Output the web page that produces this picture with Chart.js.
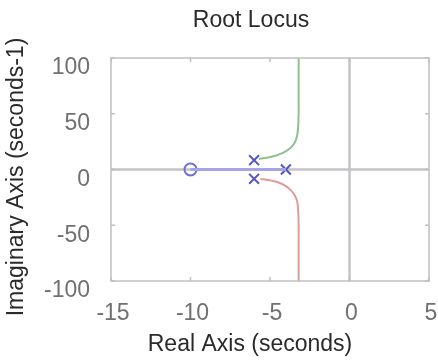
<!DOCTYPE html>
<html>
<head>
<meta charset="utf-8">
<script src="https://cdn.jsdelivr.net/npm/chart.js@4.4.1/dist/chart.umd.min.js"></script>
<style>
  html, body { margin: 0; padding: 0; background: #fff; }
  #wrap { width: 438px; height: 364px; }
</style>
</head>
<body>
<div id="wrap"><canvas id="locus"></canvas></div>
<script>
// Root locus data
const xTicks = [-15, -10, -5, 0, 5];
const yTicks = [-100, -50, 0, 50, 100];

// poles (x marks) and zero (o)
const polesRe = [-6, -6, -4];
const polesIm = [8.4, -8.4, 0];
const zerosRe = [-10];
const zerosIm = [0];

// branch on the real axis, from pole at -4 to zero at -10
const realBranchRe = [-4, -10];
const realBranchIm = [0, 0];

// upper branch (green)
const upperRe = [-5.7, -5.2, -4.6, -4.1, -3.7, -3.45, -3.3, -3.23, -3.2, -3.2, -3.2];
const upperIm = [9.5, 10.5, 12.5, 15.5, 19.5, 24, 30, 38, 50, 70, 100];

// lower branch (red)
const lowerRe = [-5.6, -5.1, -4.5, -4.05, -3.7, -3.45, -3.3, -3.23, -3.2, -3.2, -3.2];
const lowerIm = [-8.5, -9.5, -11.5, -14.5, -18.5, -23, -28, -36, -50, -70, -100];

function toPoints(xs, ys) {
    return xs.map((x, i) => ({ x: x, y: ys[i] }));
}

// Draws the box, inward tick marks and the text titles
const frame = {
    id: 'frame',
    beforeDatasetsDraw(chart) {
        const { ctx, chartArea: a, scales } = chart;
        ctx.save();
        // zero lines
        ctx.strokeStyle = '#c4c4c8';
        ctx.lineWidth = 2.5;
        const y0 = scales.y.getPixelForValue(0);
        const x0 = scales.x.getPixelForValue(0);
        ctx.beginPath();
        ctx.moveTo(a.left, y0); ctx.lineTo(a.right, y0);
        ctx.moveTo(x0, a.top); ctx.lineTo(x0, a.bottom);
        ctx.stroke();
        ctx.restore();
    },
    afterDraw(chart) {
        const { ctx, chartArea: a, scales } = chart;
        ctx.save();
        ctx.strokeStyle = '#c0c0c0';
        ctx.lineWidth = 1.5;
        ctx.strokeRect(a.left, a.top, a.right - a.left, a.bottom - a.top);
        ctx.beginPath();
        xTicks.forEach(v => {
            const px = scales.x.getPixelForValue(v);
            ctx.moveTo(px, a.bottom); ctx.lineTo(px, a.bottom - 4);
            ctx.moveTo(px, a.top); ctx.lineTo(px, a.top + 4);
        });
        yTicks.forEach(v => {
            const py = scales.y.getPixelForValue(v);
            ctx.moveTo(a.left, py); ctx.lineTo(a.left + 4, py);
            ctx.moveTo(a.right, py); ctx.lineTo(a.right - 4, py);
        });
        ctx.stroke();

        ctx.fillStyle = '#2a2a2a';
        ctx.font = '23px "Liberation Sans", Arial, sans-serif';
        ctx.textAlign = 'center';
        ctx.textBaseline = 'middle';
        ctx.fillText('Root Locus', 251, 21);
        ctx.fillText('Real Axis (seconds)', 250, 345);
        ctx.translate(17, 177);
        ctx.rotate(-Math.PI / 2);
        ctx.fillText('Imaginary Axis (seconds-1)', 0, 0);
        ctx.restore();
    }
};

document.addEventListener('DOMContentLoaded', function () {
    const ctx = document.getElementById('locus').getContext('2d');
    new Chart(ctx, {
        type: 'scatter',
        data: {
            datasets: [
                {
                    label: 'upper',
                    data: toPoints(upperRe, upperIm),
                    showLine: true,
                    borderColor: '#8fc08f',
                    borderWidth: 2,
                    pointRadius: 0,
                    tension: 0.3
                },
                {
                    label: 'lower',
                    data: toPoints(lowerRe, lowerIm),
                    showLine: true,
                    borderColor: '#e39a9a',
                    borderWidth: 2,
                    pointRadius: 0,
                    tension: 0.3
                },
                {
                    label: 'real axis branch',
                    data: toPoints(realBranchRe, realBranchIm),
                    showLine: true,
                    borderColor: '#a4a4e6',
                    borderWidth: 3,
                    pointRadius: 0
                },
                {
                    label: 'zeros',
                    data: toPoints(zerosRe, zerosIm),
                    pointStyle: 'circle',
                    pointRadius: 6,
                    borderColor: '#6f6fd8',
                    backgroundColor: 'rgba(0,0,0,0)',
                    borderWidth: 2
                },
                {
                    label: 'poles',
                    data: toPoints(polesRe, polesIm),
                    pointStyle: 'cross',
                    pointRotation: 45,
                    pointRadius: 7,
                    borderColor: '#5454c4',
                    borderWidth: 2
                }
            ]
        },
        plugins: [frame],
        options: {
            responsive: true,
            maintainAspectRatio: false,
            animation: false,
            layout: {
                padding: { top: 58, right: 8, left: 0, bottom: 0 }
            },
            plugins: {
                legend: { display: false },
                tooltip: { enabled: false }
            },
            scales: {
                x: {
                    type: 'linear',
                    min: -15,
                    max: 5,
                    afterBuildTicks: (scale) => { scale.ticks = xTicks.map(v => ({ value: v })); },
                    afterFit: (scale) => {
                        scale.height = 83;
                        scale.paddingLeft = 0;
                        scale.paddingRight = 0;
                    },
                    grid: { display: false },
                    border: { display: false },
                    ticks: {
                        color: '#707070',
                        padding: 11,
                        labelOffset: 2,
                        maxRotation: 0,
                        font: { family: '"Liberation Sans", Arial, sans-serif', size: 23 }
                    }
                },
                y: {
                    type: 'linear',
                    min: -100,
                    max: 100,
                    afterBuildTicks: (scale) => { scale.ticks = yTicks.map(v => ({ value: v })); },
                    afterFit: (scale) => {
                        scale.width = 111;
                        scale.paddingTop = 0;
                        scale.paddingBottom = 0;
                    },
                    grid: { display: false },
                    border: { display: false },
                    ticks: {
                        color: '#707070',
                        padding: 13,
                        labelOffset: 10,
                        font: { family: '"Liberation Sans", Arial, sans-serif', size: 23 }
                    }
                }
            }
        }
    });
});
</script>
</body>
</html>
